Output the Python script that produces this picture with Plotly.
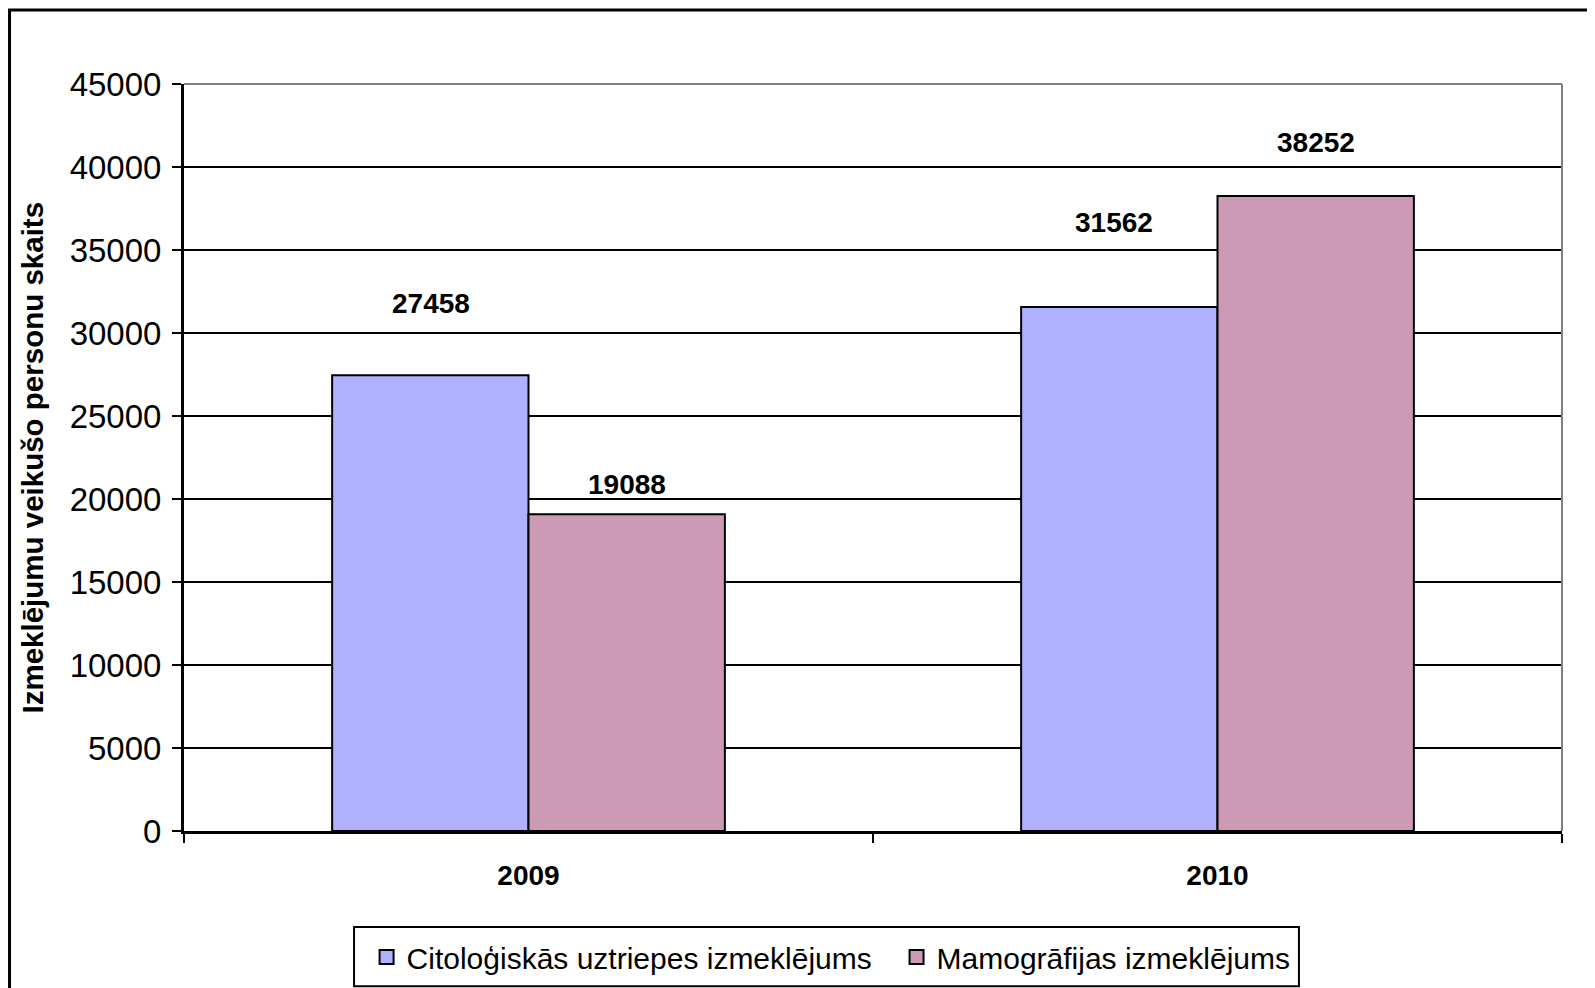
import plotly.graph_objects as go

years = ["2009", "2010"]
series_names = ["Citoloģiskās uztriepes izmeklējums", "Mamogrāfijas izmeklējums"]
cito_values = [27458, 31562]
mamo_values = [19088, 38252]
y_ticks = [0, 5000, 10000, 15000, 20000, 25000, 30000, 35000, 40000, 45000]

colors = ["#B0B1FE", "#CD9AB5"]
FONT = "Liberation Sans, Arial, sans-serif"

fig = go.Figure()
for name, vals, col in zip(series_names, [cito_values, mamo_values], colors):
    fig.add_trace(go.Bar(
        x=years, y=vals, name=name, showlegend=False, legendgroup=name,
        marker=dict(color=col, line=dict(color="black", width=2)),
    ))
# legend entries (one small legend per series, larger square swatch)
for name, col, lg in zip(series_names, colors, ["legend", "legend2"]):
    fig.add_trace(go.Scatter(
        x=[None], y=[None], mode="markers", name=name, legendgroup=name, legend=lg,
        marker=dict(symbol="square", size=14, color=col, line=dict(color="black", width=2)),
    ))

# data labels (positions offset as in the original)
label_shift = {0: [(0, 72), (-6, 85)], 1: [(0, 30), (0, 54)]}
half = 98
for si, vals in enumerate([cito_values, mamo_values]):
    for ci, v in enumerate(vals):
        dx, dy = label_shift[si][ci]
        fig.add_annotation(
            x=ci, y=v, xref="x", yref="y",
            text=f"<b>{v}</b>", showarrow=False,
            xshift=(-half if si == 0 else half) + dx, yshift=dy,
            yanchor="middle", xanchor="center",
            font=dict(family=FONT, size=28, color="black"),
        )

fig.add_annotation(
    x=-0.1096, y=0.5, xref="paper", yref="paper",
    text="<b>Izmeklējumu veikušo personu skaits</b>", textangle=-90,
    showarrow=False, xanchor="center", yanchor="middle",
    font=dict(family=FONT, size=29.5, color="black"),
)

# outer chart border, legend box and plot area border
fig.add_shape(type="rect", xref="paper", yref="paper",
              x0=-0.1266, x1=1.0287, y0=-0.218, y1=1.099,
              line=dict(color="black", width=3), layer="below")
fig.add_shape(type="rect", xref="paper", yref="paper",
              x0=0.1234, x1=0.8091, y0=-0.2079, y1=-0.1285,
              line=dict(color="black", width=2), fillcolor="white", layer="below")
fig.add_shape(type="line", xref="paper", yref="paper",
              x0=0, x1=1, y0=1, y1=1, line=dict(color="#808080", width=2), layer="above")
fig.add_shape(type="line", xref="paper", yref="paper",
              x0=1, x1=1, y0=0, y1=1, line=dict(color="#808080", width=2), layer="above")

legend_common = dict(
    orientation="h", xanchor="left", yanchor="top", y=-0.1339,
    borderwidth=0, bgcolor="rgba(0,0,0,0)",
    font=dict(family=FONT, size=30, color="black"),
)
fig.update_layout(
    width=1595, height=988,
    margin=dict(l=176, r=41, t=76, b=165, autoexpand=False),
    paper_bgcolor="white", plot_bgcolor="white",
    barmode="group", bargap=0.43, bargroupgap=0,
    font=dict(family=FONT, color="black"),
    showlegend=True,
    legend=dict(x=0.1325, **legend_common),
    legend2=dict(x=0.5171, **legend_common),
)
fig.update_yaxes(
    range=[0, 45000], tickvals=y_ticks, ticktext=[str(t) for t in y_ticks],
    showgrid=True, gridcolor="black", gridwidth=2,
    showline=True, linecolor="black", linewidth=3,
    ticks="outside", ticklen=9, tickwidth=2, tickcolor="black",
    tickfont=dict(family=FONT, size=33, color="black"),
    ticklabelstandoff=4, zeroline=False, automargin=False,
)
fig.update_xaxes(
    type="category", range=[-0.5, 1.5], showline=True, linecolor="black", linewidth=3,
    ticks="outside", tickson="boundaries", ticklen=9, tickwidth=2, tickcolor="black",
    tickfont=dict(family=FONT, size=28, color="black", weight="bold"),
    ticklabelstandoff=17, showgrid=False, automargin=False,
)

fig.write_html("out.html")
